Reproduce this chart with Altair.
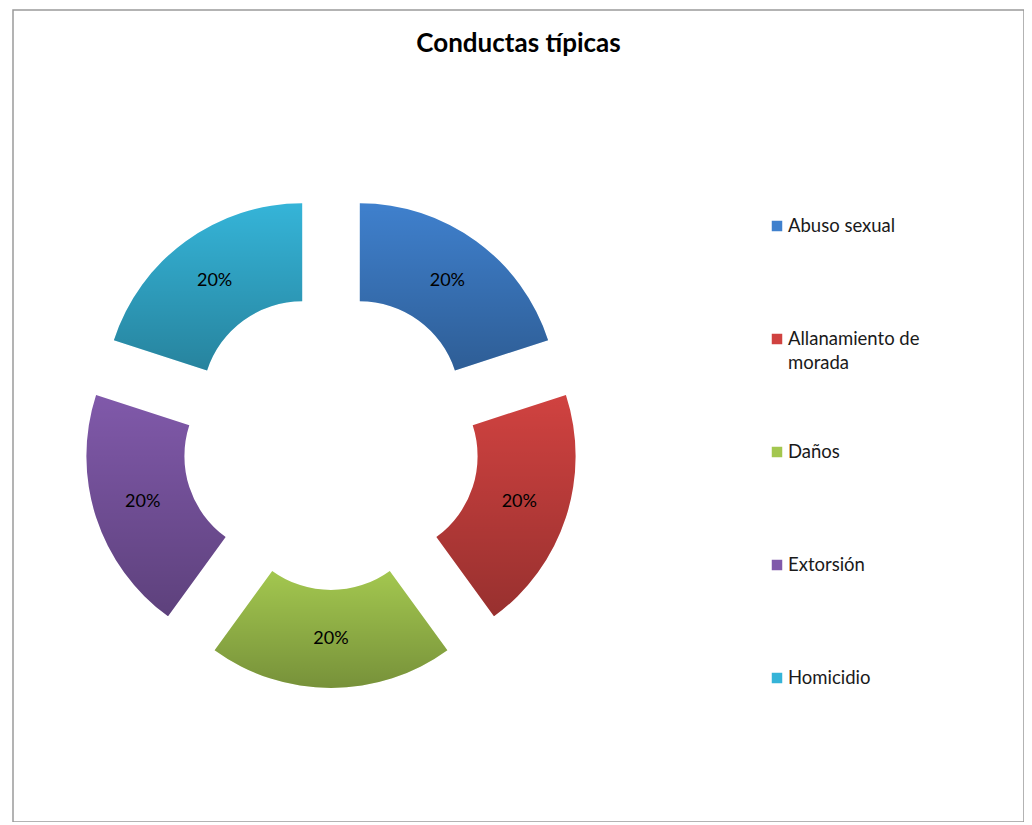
import altair as alt
import pandas as pd

categorias = ["Abuso sexual", "Allanamiento de morada", "Daños", "Extorsión", "Homicidio"]
etiquetas = ["Abuso sexual", "Allanamiento de\nmorada", "Daños", "Extorsión", "Homicidio"]
valores = [20, 20, 20, 20, 20]
colores = ["#3f80cd", "#d04240", "#a3c74f", "#8059aa", "#35b4d8"]

df = pd.DataFrame({"categoria": categorias, "etiqueta": etiquetas, "valor": valores})

CX, CY = 318, 431      # donut centre in view coordinates
D = 49                 # explode distance
R_IN, R_OUT = 100, 198
R_LAB = (R_IN + R_OUT) / 2

base = alt.Chart(df).transform_joinaggregate(
    total="sum(valor)"
).transform_window(
    cum="sum(valor)", sort=[alt.SortField("categoria", order="ascending")]
).transform_calculate(
    end="datum.cum / datum.total",
    start="(datum.cum - datum.valor) / datum.total",
    mid="(datum.cum - datum.valor / 2) / datum.total",
    pct="datum.valor / datum.total",
).transform_calculate(
    cx=f"{CX} + {D} * sin(datum.mid * 2 * PI)",
    cy=f"{CY} - {D} * cos(datum.mid * 2 * PI)",
)

theta_scale = alt.Scale(domain=[0, 1], range=[0, 6.283185307179586])
color_scale = alt.Scale(domain=categorias, range=colores)

arcs = base.mark_arc(innerRadius=R_IN, outerRadius=R_OUT).encode(
    x=alt.X("cx:Q", scale=None, axis=None),
    y=alt.Y("cy:Q", scale=None, axis=None),
    theta=alt.Theta("start:Q", scale=theta_scale),
    theta2="end:Q",
    color=alt.Color("categoria:N", scale=color_scale, legend=None),
)

shade = base.mark_arc(
    innerRadius=R_IN, outerRadius=R_OUT,
    fill=alt.Gradient(
        gradient="linear",
        stops=[alt.GradientStop(color="rgba(0,0,0,0)", offset=0),
               alt.GradientStop(color="rgba(0,0,0,0.27)", offset=1)],
        x1=0, x2=0, y1=0, y2=1,
    ),
).encode(
    x=alt.X("cx:Q", scale=None, axis=None),
    y=alt.Y("cy:Q", scale=None, axis=None),
    theta=alt.Theta("start:Q", scale=theta_scale),
    theta2="end:Q",
)

labels = base.mark_text(radius=R_LAB, font="Lato", fontSize=18, color="black").encode(
    x=alt.X("cx:Q", scale=None, axis=None),
    y=alt.Y("cy:Q", scale=None, axis=None),
    theta=alt.Theta("mid:Q", scale=theta_scale),
    text=alt.Text("pct:Q", format=".0%"),
)

leg_y = alt.Y("categoria:N", sort=categorias,
              scale=alt.Scale(type="point", range=[216, 668], padding=0), axis=None)

leg_sym = alt.Chart(df).mark_square(size=110, opacity=1).encode(
    x=alt.value(764),
    y=leg_y,
    color=alt.Color("categoria:N", scale=color_scale, legend=None),
)

leg_txt = alt.Chart(df).transform_calculate(
    lineas="split(datum.etiqueta, '\\n')"
).mark_text(align="left", baseline="alphabetic", dy=6, font="Lato", fontSize=18.5,
            lineHeight=24, color="#1a1a1a").encode(
    x=alt.value(775),
    y=leg_y,
    text="lineas:N",
)

chart = alt.layer(arcs, shade, labels, leg_sym, leg_txt).resolve_scale(
    y="independent", x="shared"
).properties(
    width=1011,
    height=812,
    padding={"left": 5, "top": 2, "right": 0, "bottom": 0},
    title=alt.TitleParams("Conductas típicas", font="Lato", fontSize=26, fontWeight="bold",
                          anchor="middle", baseline="middle", offset=-60, color="black"),
).configure_view(stroke="#9a9a9a", strokeWidth=1.5)

chart.save("out.html", embed_options={"renderer": "svg", "actions": False})
